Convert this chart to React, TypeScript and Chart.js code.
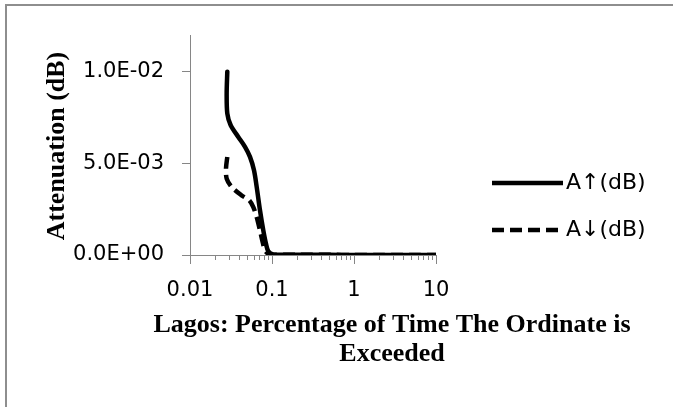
import React, { useEffect, useRef } from "react";
import { Chart, registerables } from "chart.js";

Chart.register(...registerables);

// Percentage of time (%) and attenuation (dB) for the uplink curve
const upPct = [0.0285, 0.028, 0.0285, 0.03135, 0.03882, 0.04685, 0.05391, 0.06032, 0.06508, 0.0714, 0.07831, 0.0845, 0.09014, 0.1037, 0.151, 0.2, 0.3, 0.5, 1, 2, 3, 5, 10];
const upAtt = [0.01, 0.00882, 0.00772, 0.00708, 0.00644, 0.0059, 0.00535, 0.00462, 0.00371, 0.00243, 0.00134, 0.00061, 0.00021, 0.00003, 0.00002, 0.00002, 0.00001, 0.00001, 0, 0, 0, 0, 0];

// Percentage of time (%) and attenuation (dB) for the downlink curve
const downPct = [0.0285, 0.02748, 0.028, 0.03225, 0.04271, 0.05286, 0.05916, 0.06508, 0.0714, 0.07701, 0.0822, 0.0945, 0.151, 0.2, 0.3, 0.5, 1, 2, 3, 5, 10];
const downAtt = [0.00535, 0.00472, 0.00417, 0.00371, 0.00325, 0.00298, 0.00261, 0.00207, 0.00134, 0.0007, 0.00025, 0.00003, 0.00002, 0.00002, 0.00001, 0.00001, 0, 0, 0, 0, 0];

const seriesNames = ["A\u2191(dB)", "A\u2193(dB)"];
const xTickValues = [0.01, 0.1, 1, 10];
const yTickValues = [0, 0.005, 0.01];
const xTitleLines = ["Lagos: Percentage of Time The Ordinate is", "Exceeded"];
const yTitle = "Attenuation (dB)";

const AXIS = "#868686";
const INK = "#000000";
const TICK_FONT = "DejaVu Sans";
const TITLE_FONT = "'Liberation Serif', 'Times New Roman', serif";

const isDecade = (v: number) => {
  const l = Math.log10(v);
  return Math.abs(l - Math.round(l)) < 1e-9;
};

const sciLabel = (v: number) => {
  const [m, e] = v.toExponential(1).split("e");
  const sign = e[0] === "-" ? "-" : "+";
  const digits = e.replace(/^[+-]/, "").padStart(2, "0");
  return `${m}E${sign}${digits}`;
};

// log-axis tick positions: 1..9 within each decade, plus the last decade
const logTicks = () => {
  const out: number[] = [];
  for (let d = 0; d < xTickValues.length - 1; d++) {
    for (let m = 1; m <= 9; m++) out.push(+(xTickValues[d] * m).toPrecision(6));
  }
  out.push(xTickValues[xTickValues.length - 1]);
  return out;
};

const decorations = {
  id: "decorations",
  afterDraw(chart: any) {
    const { ctx, chartArea } = chart;
    const xs = chart.scales.x;
    ctx.save();

    // short minor tick marks under the x axis
    ctx.strokeStyle = AXIS;
    ctx.lineWidth = 1;
    xs.ticks.forEach((t: any) => {
      if (isDecade(t.value)) return;
      const px = Math.round(xs.getPixelForValue(t.value)) + 0.5;
      ctx.beginPath();
      ctx.moveTo(px, chartArea.bottom);
      ctx.lineTo(px, chartArea.bottom + 5);
      ctx.stroke();
    });

    // y axis title
    ctx.fillStyle = INK;
    ctx.font = `bold 26px ${TITLE_FONT}`;
    ctx.textAlign = "center";
    ctx.textBaseline = "alphabetic";
    ctx.save();
    ctx.translate(chartArea.left - 126, (chartArea.top + chartArea.bottom) / 2 + 1);
    ctx.rotate(-Math.PI / 2);
    ctx.fillText(yTitle, 0, 0);
    ctx.restore();

    // x axis title (two lines)
    const cx = chartArea.right - 44;
    ctx.fillText(xTitleLines[0], cx, chartArea.bottom + 77);
    ctx.fillText(xTitleLines[1], cx, chartArea.bottom + 106);

    // legend
    const rows = [183, 230];
    chart.data.datasets.forEach((ds: any, i: number) => {
      const y = rows[i];
      ctx.strokeStyle = ds.borderColor;
      ctx.lineWidth = ds.borderWidth;
      ctx.lineCap = "butt";
      ctx.setLineDash(ds.borderDash || []);
      ctx.beginPath();
      ctx.moveTo(492, y);
      ctx.lineTo(563, y);
      ctx.stroke();
      ctx.setLineDash([]);
      ctx.fillStyle = INK;
      ctx.font = `22px ${TICK_FONT}`;
      ctx.textAlign = "left";
      ctx.textBaseline = "middle";
      ctx.fillText(ds.label, 566, y);
    });

    ctx.restore();
  },
};

export default function App() {
  const canvasRef = useRef<HTMLCanvasElement | null>(null);

  useEffect(() => {
    if (!canvasRef.current) return;
    const toPoints = (xs: number[], ys: number[]) => xs.map((x, i) => ({ x, y: ys[i] }));

    const chart = new Chart(canvasRef.current, {
      type: "line",
      data: {
        datasets: [
          {
            label: seriesNames[0],
            data: toPoints(upPct, upAtt),
            borderColor: INK,
            borderWidth: 4.5,
            pointRadius: 0,
            tension: 0.3,
            fill: false,
            borderCapStyle: "round",
            borderJoinStyle: "round",
          },
          {
            label: seriesNames[1],
            data: toPoints(downPct, downAtt),
            borderColor: INK,
            borderWidth: 4.5,
            borderDash: [12, 6],
            pointRadius: 0,
            tension: 0.3,
            fill: false,
            borderJoinStyle: "round",
          },
        ],
      },
      options: {
        animation: false,
        responsive: false,
        devicePixelRatio: 1,
        layout: { padding: { left: 0, top: 35, right: 237, bottom: 0 } },
        plugins: {
          legend: { display: false },
          tooltip: { enabled: false },
          title: { display: false },
        },
        scales: {
          x: {
            type: "logarithmic",
            min: 0.01,
            max: 10,
            afterBuildTicks: (scale: any) => {
              scale.ticks = logTicks().map((value) => ({ value }));
            },
            afterFit: (scale: any) => {
              scale.height = 152;
            },
            border: { display: true, color: AXIS, width: 1 },
            grid: {
              drawOnChartArea: false,
              drawTicks: true,
              tickLength: 9,
              tickColor: (c: any) => (c.tick && isDecade(c.tick.value) ? AXIS : "rgba(0,0,0,0)"),
            },
            ticks: {
              autoSkip: false,
              maxRotation: 0,
              minRotation: 0,
              padding: 14,
              color: INK,
              font: { family: TICK_FONT, size: 21 },
              callback: (v: any) => (isDecade(Number(v)) ? String(Number(v)) : ""),
            },
          },
          y: {
            type: "linear",
            min: 0,
            max: 0.012,
            afterBuildTicks: (scale: any) => {
              scale.ticks = yTickValues.map((value) => ({ value }));
            },
            afterFit: (scale: any) => {
              scale.width = 190;
            },
            border: { display: true, color: AXIS, width: 1 },
            grid: {
              drawOnChartArea: false,
              drawTicks: true,
              tickLength: 8,
              tickColor: AXIS,
            },
            ticks: {
              padding: 18,
              color: INK,
              font: { family: TICK_FONT, size: 21 },
              callback: (v: any) => sciLabel(Number(v)),
            },
          },
        },
      },
      plugins: [decorations],
    } as any);

    return () => chart.destroy();
  }, []);

  return (
    <div
      style={{
        position: "fixed",
        left: 0,
        top: 0,
        width: 673,
        height: 407,
        background: "#ffffff",
        overflow: "hidden",
      }}
    >
      <div
        style={{
          position: "absolute",
          left: 5,
          top: 4,
          width: 720,
          height: 460,
          borderLeft: "2px solid #8e8e8e",
          borderTop: "2px solid #8e8e8e",
        }}
      />
      <canvas
        ref={canvasRef}
        width={673}
        height={407}
        style={{ position: "absolute", left: 0, top: 0, width: 673, height: 407 }}
      />
    </div>
  );
}
